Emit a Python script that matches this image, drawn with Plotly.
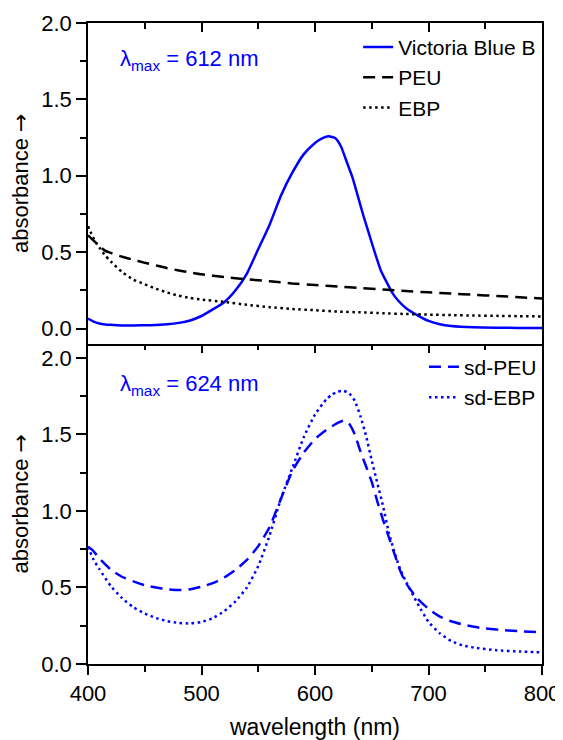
import plotly.graph_objects as go

# ---------------- data ----------------
wl_vbb = [400, 405, 410, 415, 420, 430, 440, 455, 470, 480, 490, 500, 510, 520, 530, 540, 550, 560,
          570, 580, 590, 600, 605, 612, 618, 623, 628, 633, 638, 643, 648, 653, 658, 663, 668, 673,
          680, 690, 700, 710, 720, 740, 760, 780, 800]
abs_vbb = [0.065, 0.045, 0.033, 0.027, 0.024, 0.020, 0.020, 0.022, 0.028, 0.037, 0.053, 0.082, 0.125,
           0.172, 0.25, 0.36, 0.52, 0.68, 0.87, 1.02, 1.14, 1.215, 1.24, 1.258, 1.245, 1.19, 1.09, 0.99,
           0.86, 0.73, 0.61, 0.49, 0.38, 0.305, 0.235, 0.185, 0.135, 0.088, 0.05, 0.028, 0.017, 0.008,
           0.005, 0.004, 0.004]

wl_peu = [400, 405, 410, 415, 420, 430, 440, 450, 460, 470, 480, 490, 500, 520, 540, 560, 580, 600,
          620, 640, 660, 680, 700, 720, 740, 760, 780, 800]
abs_peu = [0.61, 0.575, 0.54, 0.51, 0.495, 0.47, 0.45, 0.43, 0.413, 0.395, 0.38, 0.367, 0.355, 0.337,
           0.322, 0.31, 0.295, 0.285, 0.275, 0.265, 0.255, 0.245, 0.237, 0.229, 0.221, 0.213, 0.205, 0.196]

wl_ebp = [400, 403, 406, 410, 415, 420, 430, 440, 450, 460, 470, 480, 490, 500, 520, 540, 560, 580,
          600, 620, 640, 660, 680, 700, 720, 740, 760, 780, 800]
abs_ebp = [0.67, 0.62, 0.575, 0.53, 0.48, 0.44, 0.37, 0.32, 0.29, 0.26, 0.235, 0.215, 0.2, 0.19, 0.174,
           0.155, 0.14, 0.128, 0.12, 0.111, 0.106, 0.1, 0.095, 0.091, 0.088, 0.085, 0.083, 0.081, 0.079]

wl_sdpeu = [400, 404, 410, 420, 430, 440, 450, 460, 470, 480, 490, 500, 510, 520, 530, 540, 550, 560,
            570, 580, 590, 600, 610, 620, 625, 630, 635, 640, 645, 650, 655, 660, 665, 670, 675, 680,
            690, 700, 710, 720, 730, 740, 750, 760, 780, 800]
abs_sdpeu = [0.766, 0.744, 0.69, 0.617, 0.57, 0.54, 0.515, 0.50, 0.488, 0.483, 0.488, 0.505, 0.528,
             0.565, 0.615, 0.68, 0.77, 0.895, 1.08, 1.26, 1.38, 1.47, 1.53, 1.575, 1.59, 1.57, 1.50,
             1.39, 1.29, 1.19, 1.06, 0.94, 0.83, 0.72, 0.61, 0.53, 0.43, 0.36, 0.31, 0.279, 0.258,
             0.243, 0.232, 0.225, 0.214, 0.207]

wl_sdebp = [400, 405, 410, 420, 430, 440, 450, 460, 470, 480, 490, 500, 510, 520, 530, 540, 550, 560,
            570, 580, 590, 600, 610, 615, 620, 625, 630, 635, 640, 645, 650, 655, 660, 665, 670, 675,
            680, 690, 700, 710, 720, 730, 740, 760, 780, 800]
abs_sdebp = [0.766, 0.68, 0.62, 0.51, 0.43, 0.37, 0.33, 0.30, 0.28, 0.268, 0.265, 0.275, 0.3, 0.345,
             0.41, 0.5, 0.64, 0.84, 1.08, 1.28, 1.48, 1.63, 1.73, 1.76, 1.78, 1.785, 1.77, 1.72,
             1.62, 1.49, 1.33, 1.18, 1.03, 0.86, 0.73, 0.62, 0.54, 0.40, 0.275, 0.2, 0.15, 0.122,
             0.107, 0.09, 0.082, 0.076]

x_ticks = [400, 500, 600, 700, 800]
y_ticks = [0.0, 0.5, 1.0, 1.5, 2.0]
y_ticklabels = ["0.0", "0.5", "1.0", "1.5", "2.0"]

# ---------------- styles ----------------
FONT = "Liberation Sans, Arial, sans-serif"
BLUE = "#0000FF"
BLACK = "#000000"
DASH = "12px,7px"
DOT = "2.5px,3.5px"
LW = 2.5

fig = go.Figure()

def add(x, y, name, color, dash, xa, ya, leg):
    fig.add_trace(go.Scatter(x=x, y=y, name=name, mode="lines",
                             line=dict(color=color, width=LW, dash=dash, shape="spline", smoothing=0.5),
                             xaxis=xa, yaxis=ya, legend=leg))

add(wl_vbb, abs_vbb, "Victoria Blue B", BLUE, "solid", "x", "y", "legend")
add(wl_peu, abs_peu, "PEU", BLACK, DASH, "x", "y", "legend")
add(wl_ebp, abs_ebp, "EBP", BLACK, DOT, "x", "y", "legend")
add(wl_sdpeu, abs_sdpeu, "sd-PEU", BLUE, DASH, "x2", "y2", "legend2")
add(wl_sdebp, abs_sdebp, "sd-EBP", BLUE, DOT, "x2", "y2", "legend2")
# invisible carrier so the separator tick axis (x3) is drawn
fig.add_trace(go.Scatter(x=wl_sdpeu, y=abs_sdpeu, mode="lines", line=dict(width=0),
                         opacity=0, showlegend=False, hoverinfo="skip", xaxis="x3", yaxis="y2"))

axis_common = dict(showline=True, linecolor=BLACK, linewidth=1.5, showgrid=False, zeroline=False,
                   tickcolor=BLACK, tickwidth=1.5, ticklen=9, automargin=False,
                   tickfont=dict(family=FONT, size=22, color=BLACK))

ytitle = "absorbance <span style='font-family:DejaVu Sans'>\u2192</span>"

yaxis_common = dict(axis_common, ticks="outside", mirror=True, tickvals=y_ticks, ticktext=y_ticklabels,
                    ticklen=10,
                    minor=dict(dtick=0.25, tick0=0, ticks="outside", ticklen=6, tickwidth=1.5,
                               tickcolor=BLACK),
                    title=dict(text=ytitle, font=dict(family=FONT, size=22, color=BLACK),
                               standoff=10))

minor_in = dict(dtick=50, tick0=400, ticks="inside", ticklen=6, tickwidth=1.5, tickcolor=BLACK)
minor_out = dict(dtick=50, tick0=400, ticks="outside", ticklen=6, tickwidth=1.5, tickcolor=BLACK)

fig.update_layout(
    width=555, height=732,
    margin=dict(l=80, r=21, t=15, b=76),
    paper_bgcolor="white", plot_bgcolor="white",
    font=dict(family=FONT, size=22, color=BLACK),
    showlegend=True,
    # top panel: x axis drawn at the top with inward ticks; mirror draws the separator line
    xaxis=dict(axis_common, domain=[0, 1], anchor="y", side="top", range=[400, 800],
               ticks="inside", mirror=True, showticklabels=False, tickvals=x_ticks, minor=minor_in),
    yaxis=dict(yaxis_common, domain=[0.5, 1.0], anchor="x", range=[-0.098, 2.0]),
    # bottom panel
    xaxis2=dict(axis_common, domain=[0, 1], anchor="y2", side="bottom", range=[400, 800],
                ticks="outside", mirror=False, tickvals=x_ticks, minor=minor_out,
                title=dict(text="wavelength (nm)", font=dict(family=FONT, size=23, color=BLACK),
                           standoff=16)),
    yaxis2=dict(yaxis_common, domain=[0, 0.5], anchor="x2", range=[0, 2.094]),
    # inward ticks on the separator (top of the bottom panel)
    xaxis3=dict(axis_common, overlaying="x2", anchor="y2", side="top", range=[400, 800],
                ticks="inside", showline=False, showticklabels=False, tickvals=x_ticks,
                minor=minor_in),
    legend=dict(x=0.595, y=0.994, xanchor="left", yanchor="top", bgcolor="rgba(0,0,0,0)",
                font=dict(family=FONT, size=21, color=BLACK), tracegroupgap=0),
    legend2=dict(x=0.74, y=0.495, xanchor="left", yanchor="top", bgcolor="rgba(0,0,0,0)",
                 font=dict(family=FONT, size=21, color=BLACK), tracegroupgap=0),
    annotations=[
        dict(text="\u03bb<sub>max</sub> = 612 nm", xref="paper", yref="paper", x=0.065, y=0.942,
             xanchor="left", yanchor="middle", showarrow=False,
             font=dict(family=FONT, size=22, color=BLUE)),
        dict(text="\u03bb<sub>max</sub> = 624 nm", xref="paper", yref="paper", x=0.065, y=0.436,
             xanchor="left", yanchor="middle", showarrow=False,
             font=dict(family=FONT, size=22, color=BLUE)),
    ],
)

fig.write_html("out.html")
